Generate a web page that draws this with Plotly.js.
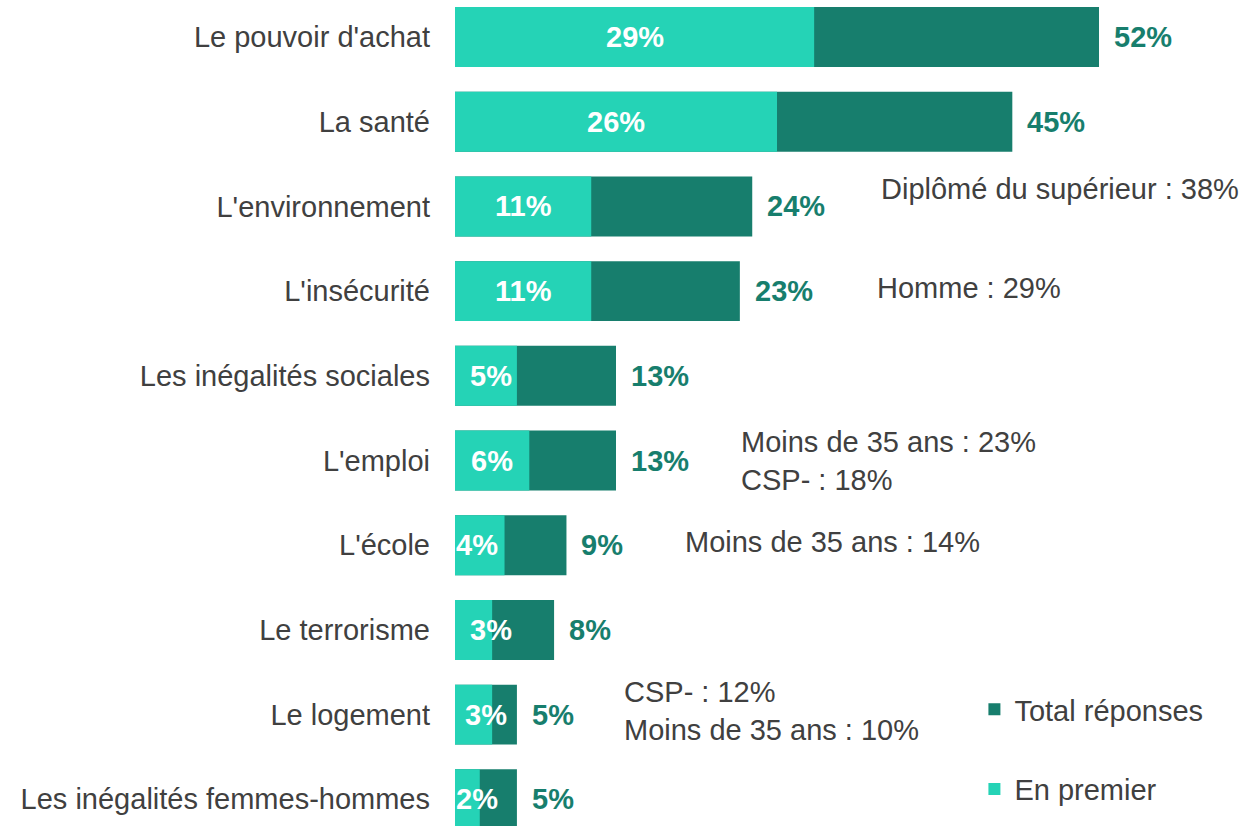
<!DOCTYPE html>
<html>
<head>
<meta charset="utf-8">
<script src="https://cdn.plot.ly/plotly-3.0.1.min.js"></script>
<style>
  html, body { margin: 0; padding: 0; background: #ffffff; }
  #chart { width: 1248px; height: 826px; }
</style>
</head>
<body>
<div id="chart"></div>
<script>
// ---- Data ----
const categories = [
  "Le pouvoir d'achat",
  "La santé",
  "L'environnement",
  "L'insécurité",
  "Les inégalités sociales",
  "L'emploi",
  "L'école",
  "Le terrorisme",
  "Le logement",
  "Les inégalités femmes-hommes"
];
const enPremier = [29, 26, 11, 11, 5, 6, 4, 3, 3, 2];
const totalReponses = [52, 45, 24, 23, 13, 13, 9, 8, 5, 5];

const noteCategories = ["L'environnement", "L'insécurité", "L'emploi", "L'école", "Le logement"];
const noteTexts = [
  "Diplômé du supérieur : 38%",
  "Homme : 29%",
  "Moins de 35 ans : 23%<br>CSP- : 18%",
  "Moins de 35 ans : 14%",
  "CSP- : 12%<br>Moins de 35 ans : 10%"
];

// ---- Style / layout (not data) ----
const FONT = "Liberation Sans, Arial, Helvetica, sans-serif";
const FS = 29;
const LIGHT = "#25D3B6";
const DARK = "#177E6D";
const GREY = "#404040";
const innerNudgePx = [0, 0, 0, 0, 5, 0, -3, 17, 12, 10];
const noteXPos = [34.2, 33.9, 22.9, 18.4, 13.5];
const noteYShift = [17, 3, 0, 3, 4];

const traces = [
  {
    type: "bar", orientation: "h", name: "Total réponses",
    y: categories, x: totalReponses,
    marker: { color: DARK, line: { width: 0 } },
    width: 0.708, hoverinfo: "skip", legendgroup: "a"
  },
  {
    type: "bar", orientation: "h", name: "En premier",
    y: categories, x: enPremier,
    marker: { color: LIGHT, line: { width: 0 } },
    width: 0.708, hoverinfo: "skip", legendgroup: "b"
  }
];

const annotations = [];
categories.forEach((c, i) => {
  annotations.push({
    x: enPremier[i] / 2, y: c, xref: "x", yref: "y",
    text: "<b>" + enPremier[i] + "%</b>", showarrow: false,
    xanchor: "center", yanchor: "middle", xshift: innerNudgePx[i],
    font: { family: FONT, size: FS, color: "#ffffff" }
  });
  annotations.push({
    x: totalReponses[i], y: c, xref: "x", yref: "y",
    text: "<b>" + totalReponses[i] + "%</b>", showarrow: false,
    xanchor: "left", yanchor: "middle", xshift: 13,
    font: { family: FONT, size: FS, color: DARK }
  });
});
noteCategories.forEach((c, i) => {
  annotations.push({
    x: noteXPos[i], y: c, xref: "x", yref: "y",
    text: noteTexts[i], showarrow: false, align: "left",
    xanchor: "left", yanchor: "middle", yshift: noteYShift[i],
    font: { family: FONT, size: FS, color: GREY }
  });
});

const layout = {
  width: 1248, height: 826,
  margin: { l: 455, r: 0, t: 0, b: 0, pad: 0 },
  paper_bgcolor: "#ffffff", plot_bgcolor: "#ffffff",
  barmode: "overlay",
  font: { family: FONT, size: FS, color: GREY },
  xaxis: {
    range: [0, 64.03], showgrid: false, zeroline: false,
    showline: false, showticklabels: false, ticks: ""
  },
  yaxis: {
    type: "category", range: [9.315, -0.437],
    showgrid: false, zeroline: false, showline: false, ticks: "",
    ticklabelstandoff: 24,
    tickfont: { family: FONT, size: FS, color: GREY }
  },
  showlegend: true,
  legend: {
    x: 0.655, y: 0.172, xanchor: "left", yanchor: "top",
    bgcolor: "rgba(0,0,0,0)", traceorder: "grouped", tracegroupgap: 39,
    font: { family: FONT, size: FS, color: GREY }
  },
  annotations: annotations
};

Plotly.newPlot("chart", traces, layout, { displayModeBar: false, staticPlot: true });
</script>
</body>
</html>
